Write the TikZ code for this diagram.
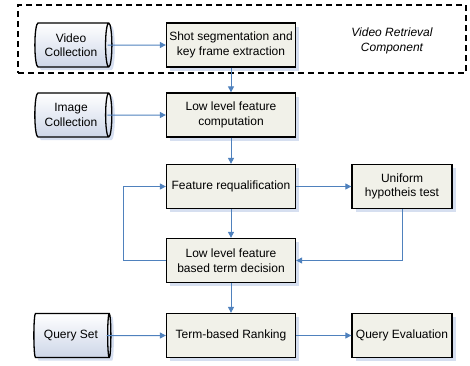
\documentclass[tikz,border=0pt]{standalone}
\usepackage{fontspec}
\setmainfont{Liberation Sans}
\usetikzlibrary{shapes.geometric,shadows,arrows.meta}
\definecolor{arrowblue}{RGB}{79,129,189}
\definecolor{boxfill}{RGB}{241,241,233}
\definecolor{shadowblue}{RGB}{214,223,240}
\definecolor{drumblue}{RGB}{205,214,232}
\tikzset{
  procbox/.style={draw=black,line width=1.3pt,fill=boxfill,minimum width=129,minimum height=44,
    align=center,inner sep=1pt,font=\fontsize{12}{14.5}\selectfont,
    drop shadow={shadow xshift=3.5pt,shadow yshift=-3.5pt,fill=shadowblue,opacity=1}},
  smallbox/.style={procbox,minimum width=100},
  drum/.style={cylinder,shape border rotate=0,aspect=0.25,draw=black,line width=1.3pt,
    top color=white,bottom color=drumblue,minimum width=44,minimum height=77,
    align=center,inner sep=1pt,font=\fontsize{12}{14.5}\selectfont,
    drop shadow={shadow xshift=3pt,shadow yshift=-3pt,fill=shadowblue,opacity=1}},
  link/.style={draw=arrowblue,line width=1pt,-{Triangle[length=6pt,width=6pt]}},
}
\begin{document}
\begin{tikzpicture}[x=1pt,y=-1pt]
 \useasboundingbox (0,0) rectangle (470,365);
 % video retrieval part
 \node[draw,dashed,line width=1.6pt,dash pattern=on 6pt off 4pt,minimum width=448,minimum height=68] (vrc) at (242,39) {};
 \node[align=center,font=\fontsize{12}{14.5}\selectfont\itshape] (vrclabel) at (392,41) {Video Retrieval\\Component};
 \node[drum] (vc) at (71,45) {Video\\Collection};
 \node[procbox] (shot) at (231,45) {Shot segmentation and\\key frame extraction};
 % main flow
 \node[drum] (ic) at (71,115) {Image\\Collection};
 \node[procbox] (llf) at (231,115) {Low level feature\\computation};
 \node[procbox] (req) at (231,186.5) {Feature requalification};
 \node[smallbox] (uni) at (402,186.5) {Uniform\\hypotheis test};
 \node[procbox] (dec) at (231,260.5) {Low level feature\\based term decision};
 \node[drum] (qs) at (71,335.5) {Query Set};
 \node[procbox] (rank) at (231,335.5) {Term-based Ranking};
 \node[smallbox] (qe) at (402,335.5) {Query Evaluation};
 % connectors
 \draw[link] ([xshift=-5]vc.east) -- (shot);
 \draw[link] (shot) -- (llf);
 \draw[link] ([xshift=-5]ic.east) -- (llf);
 \draw[link] (llf) -- (req);
 \draw[link] (req) -- (uni);
 \draw[link] (req) -- (dec);
 \draw[link] (dec.west) -- ++(-42,0) |- (req.west);
 \draw[link] (uni.south) |- (dec.east);
 \draw[link] (dec) -- (rank);
 \draw[link] ([xshift=-5]qs.east) -- (rank);
 \draw[link] (rank) -- (qe);
\end{tikzpicture}
\end{document}
